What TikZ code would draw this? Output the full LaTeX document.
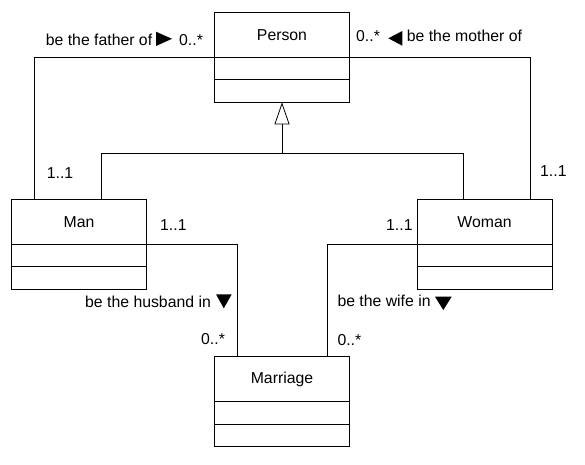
\documentclass[tikz,border=0pt]{standalone}
\usepackage{fontspec}
\setmainfont{Liberation Sans}
\usetikzlibrary{positioning,arrows.meta}

\begin{document}
\begin{tikzpicture}[x=1pt,y=-1pt,
  every node/.style={font=\fontsize{15.8}{19}\selectfont},
  classname/.style={draw,line width=0.9pt,minimum width=135pt,minimum height=45pt,inner sep=0pt,outer sep=0pt},
  compart/.style={draw,line width=0.9pt,minimum width=135pt,minimum height=22.5pt,inner sep=0pt,outer sep=0pt,below=0pt of #1},
  tag/.style={anchor=base west,inner sep=0pt},
  assoc/.style={line width=0.8pt}]
\useasboundingbox (0,0) rectangle (585,464);
% classes
\node[classname] (person) at (282,34.8) {Person};
\node[compart=person] (personattr) {};
\node[compart=personattr] (personops) {};
\node[classname] (man) at (79,221.8) {Man};
\node[compart=man] (manattr) {};
\node[compart=manattr] (manops) {};
\node[classname] (woman) at (484.5,221.8) {Woman};
\node[compart=woman] (womanattr) {};
\node[compart=womanattr] (womanops) {};
\node[classname] (marriage) at (282,379.2) {Marriage};
\node[compart=marriage] (marriageattr) {};
\node[compart=marriageattr] (marriageops) {};
% inheritance
\coordinate (genjoin) at (282,153.3);
\draw[assoc] ([xshift=90pt]man.north west) |- (genjoin) -| ([xshift=46pt]woman.north west);
\draw[assoc,-{Triangle[open,length=22pt,width=15pt]}] (genjoin) -- (personops.south);
% associations
\draw[assoc] (person.south west) -| ([xshift=23pt]man.north west);
\draw[assoc] (person.south east) -| ([xshift=-22pt]woman.north east);
\draw[assoc] (man.south east) -| ([xshift=22.5pt]marriage.north west);
\draw[assoc] (woman.south west) -| ([xshift=-22.5pt]marriage.north east);
% labels
\node[tag] (fatherrole) at (45.7,45) {be the father of};
\fill (156,31.7) -- (172,38.8) -- (156,46) -- cycle;
\node[tag] (fathermult) at (179,45) {0..*};
\node[tag] (mothermult) at (356,41.7) {0..*};
\fill (402.3,31) -- (388.3,38.3) -- (402.3,45.7) -- cycle;
\node[tag] (motherrole) at (406.7,41.7) {be the mother of};
\node[tag] (manparent) at (46.7,178) {1..1};
\node[tag] (womanparent) at (540,176) {1..1};
\node[tag] (manspouse) at (160,230.7) {1..1};
\node[tag] (womanspouse) at (386,230.7) {1..1};
\node[tag] (husbandrole) at (85,307.7) {be the husband in};
\fill (216,294.3) -- (231.7,294.3) -- (223.8,308.3) -- cycle;
\node[tag] (wiferole) at (337.3,306.7) {be the wife in};
\fill (435,296.7) -- (451.7,296.7) -- (443.3,310) -- cycle;
\node[tag] (husbandmult) at (201,344.3) {0..*};
\node[tag] (wifemult) at (337.3,345) {0..*};
\end{tikzpicture}
\end{document}
